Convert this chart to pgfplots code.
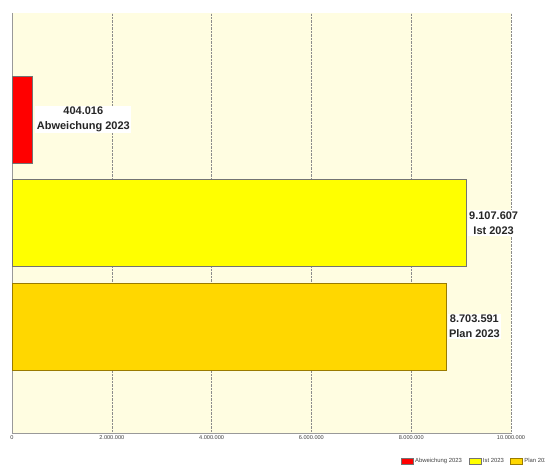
\documentclass[border=0pt]{standalone}
\usepackage{fontspec}
\setmainfont{Liberation Sans}
\usepackage{pgfplots}
\pgfplotsset{compat=1.18}

\definecolor{cream}{HTML}{FFFDE1}
\definecolor{abw}{HTML}{FF0000}
\definecolor{ist}{HTML}{FFFF00}
\definecolor{plan}{HTML}{FFD700}
\definecolor{planedge}{HTML}{9A7B00}

\begin{document}
\begin{tikzpicture}
\useasboundingbox (0,0) rectangle (545pt,466pt);
\begin{axis}[
    at={(12pt,33pt)}, anchor=south west,
    scale only axis, width=499pt, height=420pt,
    xbar, bar width=87pt, bar shift=0pt,
    xmin=0, xmax=10000000, ymin=-1.03, ymax=3.03,
    axis background/.style={fill=cream},
    axis lines*=left,
    axis line style={draw=gray!80},
    xtick={0,2000000,4000000,6000000,8000000,10000000},
    scaled x ticks=false,
    xticklabel style={font=\fontsize{5.6}{6}\selectfont, text=black!75, yshift=1pt},
    /pgf/number format/.cd, 1000 sep={.}, fixed, precision=0, assume math mode=true,
    /pgfplots/.cd,
    xtick style={draw=none},
    ytick=\empty,
    xmajorgrids, grid style={densely dotted, gray!90},
    clip=false,
    point meta=explicit symbolic,
    nodes near coords style={font=\bfseries\fontsize{11}{14.5}\selectfont, align=center,
        fill=white, inner sep=1.5pt, anchor=west, xshift=1pt, text=black!85},
    legend columns=-1,
    legend style={at={(0.7796,-0.0667)}, anchor=west, draw=none, fill=none,
        font=\fontsize{5.9}{6.5}\selectfont, text=black!75, inner xsep=0pt,
        nodes={inner xsep=1.5pt},
        /tikz/every odd column/.style={column sep=0pt},
        /tikz/column 2/.style={column sep=5.5pt},
        /tikz/column 4/.style={column sep=5pt}},
    legend image code/.code={\draw[#1] (0pt,-2.7pt) rectangle (12pt,2.7pt);},
]
\addplot[fill=abw, draw=black!55,
    nodes near coords={\pgfplotspointmeta\\Abweichung 2023},
    nodes near coords style={xshift=2pt}]
    coordinates {(404016,2) [404.016]};
\addplot[fill=ist, draw=black!55,
    nodes near coords={\pgfplotspointmeta\\Ist 2023}]
    coordinates {(9107607,1) [9.107.607]};
\addplot[fill=plan, draw=planedge,
    nodes near coords={\pgfplotspointmeta\\Plan 2023}]
    coordinates {(8703591,0) [8.703.591]};
\legend{Abweichung 2023, Ist 2023, Plan 2023}
\end{axis}
\end{tikzpicture}
\end{document}
